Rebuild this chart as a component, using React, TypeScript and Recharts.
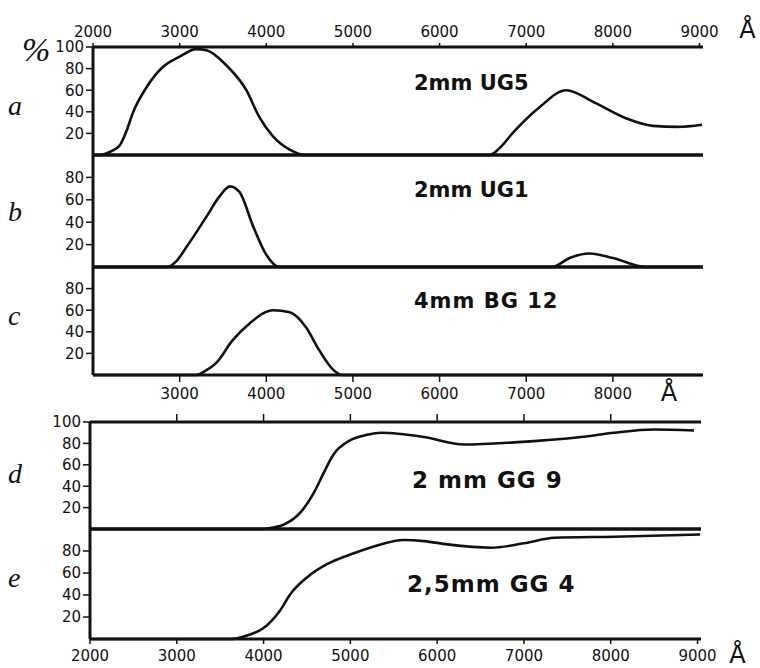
import React from "react";
import { Line, LineChart, XAxis, YAxis } from "recharts";

// wavelengths in Å, transmission in %
const ug5Wave = [2000, 2080, 2200, 2310, 2390, 2460, 2620, 2800, 3000, 3190, 3310, 3540, 3770, 3920, 4080, 4270, 4460, 6580, 6700, 6840, 7150, 7460, 7800, 8150, 8460, 8750, 9030];
const ug5Trans = [0, 0, 3, 9, 23, 39, 63, 81, 91, 98, 97, 83, 60, 35, 17, 5, 0, 0, 7, 20, 44, 60, 48, 34, 27, 26, 28];

const ug1Wave = [2000, 2850, 2960, 3080, 3310, 3460, 3580, 3690, 3850, 4000, 4150, 7300, 7500, 7730, 8000, 8380, 9030];
const ug1Trans = [0, 0, 5, 18, 45, 63, 72, 67, 36, 11, 0, 0, 8, 12, 8, 0, 0];

const bg12Wave = [2000, 3190, 3300, 3420, 3610, 3810, 4080, 4270, 4460, 4610, 4770, 4880, 9030];
const bg12Trans = [0, 0, 4, 11, 32, 48, 60, 58, 44, 23, 5, 0, 0];

const gg9Wave = [2000, 4000, 4120, 4230, 4420, 4580, 4690, 4800, 5000, 5190, 5350, 5850, 6310, 6890, 7660, 8040, 8500, 8960];
const gg9Trans = [0, 0, 1.5, 4, 15, 34, 52, 69, 83, 88, 90, 86, 79, 81, 86, 90, 93, 92];

const gg4Wave = [2000, 3620, 3800, 4000, 4190, 4310, 4500, 4730, 5040, 5350, 5610, 5850, 6120, 6620, 7000, 7350, 8040, 9030];
const gg4Trans = [0, 0, 3, 10, 26, 41, 56, 68, 78, 86, 90, 89, 86, 83, 87, 92, 93, 95];

const waveTicksFull = [2000, 3000, 4000, 5000, 6000, 7000, 8000, 9000];
const waveTicksMid = [3000, 4000, 5000, 6000, 7000, 8000];
const pctTicks100 = [20, 40, 60, 80, 100];
const pctTicks80 = [20, 40, 60, 80];

const WAVE_DOMAIN: [number, number] = [2000, 9040];

const toRows = (wave: number[], trans: number[]) => wave.map((w, i) => ({ w, t: trans[i] }));

const ink = "#111";
const hand = "'DejaVu Sans', sans-serif";

type AxisSpec = {
  ticks: number[];
  labels: boolean;
  size: number;
  height: number;
  unitAt?: number;
  unitDx?: number;
};

function makeTick(side: "top" | "bottom", spec: AxisSpec) {
  return (props: any) => {
    const { x, y, payload } = props;
    const dy = side === "top" ? -2 : 13;
    return (
      <g>
        <text x={x} y={y} dy={dy} textAnchor="middle" fill={ink} fontSize={15} fontFamily={hand}>
          {payload.value}
        </text>
        {payload.value === spec.unitAt && (
          <text x={x + (spec.unitDx ?? 48)} y={y} dy={side === "top" ? -1 : 15} textAnchor="middle" fill={ink} fontSize={24} fontFamily={hand}>
            Å
          </text>
        )}
      </g>
    );
  };
}

type PanelProps = {
  rows: Array<{ w: number; t: number }>;
  top: number;
  height: number;
  left: number;
  right: number;
  yTicks: number[];
  topAxis: AxisSpec;
  bottomAxis: AxisSpec;
};

function Panel({ rows, top, height, left, right, yTicks, topAxis, bottomAxis }: PanelProps) {
  const full = topAxis.height + height + bottomAxis.height;
  const axisLine = { stroke: ink, strokeWidth: 3 };
  const tickLine = { stroke: ink, strokeWidth: 1.5 };
  return (
    <div style={{ position: "absolute", left: 0, top: top - topAxis.height }}>
      <LineChart width={760} height={full} data={rows} margin={{ top: 0, right: 760 - right, bottom: 0, left: 0 }}>
        <XAxis
          xAxisId="t"
          orientation="top"
          type="number"
          dataKey="w"
          domain={WAVE_DOMAIN}
          ticks={topAxis.ticks}
          interval={0}
          height={topAxis.height}
          axisLine={axisLine}
          tickLine={topAxis.ticks.length ? tickLine : false}
          tickSize={topAxis.size}
          tickMargin={4}
          tick={topAxis.labels ? makeTick("top", topAxis) : () => <g />}
          allowDataOverflow
        />
        <XAxis
          xAxisId="b"
          orientation="bottom"
          type="number"
          dataKey="w"
          domain={WAVE_DOMAIN}
          ticks={bottomAxis.ticks}
          interval={0}
          height={bottomAxis.height}
          axisLine={axisLine}
          tickLine={bottomAxis.ticks.length ? tickLine : false}
          tickSize={bottomAxis.size}
          tickMargin={4}
          tick={bottomAxis.labels ? makeTick("bottom", bottomAxis) : () => <g />}
          allowDataOverflow
        />
        <YAxis
          yAxisId="l"
          width={left}
          type="number"
          domain={[0, 100]}
          ticks={yTicks}
          interval={0}
          axisLine={axisLine}
          tickLine={tickLine}
          tickSize={7}
          tickMargin={2}
          tick={{ fill: ink, fontSize: 15, fontFamily: hand }}
        />
        <YAxis yAxisId="r" orientation="right" width={0} type="number" domain={[0, 100]} tick={false} tickLine={false} axisLine={axisLine} />
        <Line
          xAxisId="b"
          yAxisId="l"
          dataKey="t"
          type="monotone"
          stroke={ink}
          strokeWidth={2.6}
          dot={false}
          isAnimationActive={false}
        />
      </LineChart>
    </div>
  );
}

const none: AxisSpec = { ticks: [], labels: false, size: 0, height: 4 };

const labelStyle: React.CSSProperties = {
  position: "absolute",
  fontFamily: hand,
  fontWeight: 700,
  fontSize: 21,
  color: ink,
  whiteSpace: "nowrap",
  lineHeight: 1,
};

const letterStyle: React.CSSProperties = {
  position: "absolute",
  fontFamily: "'Liberation Serif', serif",
  fontStyle: "italic",
  fontSize: 28,
  color: ink,
  lineHeight: 1,
};

export default function App() {
  return (
    <div style={{ position: "absolute", left: 0, top: 0, width: 760, height: 668, background: "#fff", overflow: "hidden" }}>
      <Panel
        rows={toRows(ug5Wave, ug5Trans)}
        top={47}
        height={108}
        left={93}
        right={703}
        yTicks={pctTicks100}
        topAxis={{ ticks: waveTicksFull, labels: true, size: 4, height: 44, unitAt: 9000, unitDx: 48 }}
        bottomAxis={none}
      />
      <Panel rows={toRows(ug1Wave, ug1Trans)} top={155} height={112} left={93} right={703} yTicks={pctTicks80} topAxis={none} bottomAxis={none} />
      <Panel
        rows={toRows(bg12Wave, bg12Trans)}
        top={267}
        height={108}
        left={93}
        right={703}
        yTicks={pctTicks80}
        topAxis={none}
        bottomAxis={{ ticks: waveTicksMid, labels: true, size: 7, height: 36, unitAt: 8000, unitDx: 56 }}
      />
      <Panel
        rows={toRows(gg9Wave, gg9Trans)}
        top={422}
        height={107}
        left={90}
        right={701}
        yTicks={pctTicks100}
        topAxis={{ ticks: waveTicksMid, labels: false, size: 8, height: 12 }}
        bottomAxis={none}
      />
      <Panel
        rows={toRows(gg4Wave, gg4Trans)}
        top={529}
        height={110}
        left={90}
        right={701}
        yTicks={pctTicks80}
        topAxis={none}
        bottomAxis={{ ticks: waveTicksFull, labels: true, size: 5, height: 29, unitAt: 9000, unitDx: 40 }}
      />

      <div style={{ ...letterStyle, fontSize: 34, left: 22, top: 33 }}>%</div>
      <div style={{ ...letterStyle, left: 8, top: 92 }}>a</div>
      <div style={{ ...letterStyle, left: 8, top: 198 }}>b</div>
      <div style={{ ...letterStyle, left: 8, top: 302 }}>c</div>
      <div style={{ ...letterStyle, left: 8, top: 460 }}>d</div>
      <div style={{ ...letterStyle, left: 8, top: 564 }}>e</div>

      <div style={{ ...labelStyle, left: 414, top: 73 }}>2mm UG5</div>
      <div style={{ ...labelStyle, left: 414, top: 180 }}>2mm UG1</div>
      <div style={{ ...labelStyle, left: 414, top: 291, letterSpacing: 1 }}>4mm BG 12</div>
      <div style={{ ...labelStyle, left: 412, top: 469, fontSize: 23, letterSpacing: 1 }}>2 mm GG 9</div>
      <div style={{ ...labelStyle, left: 407, top: 573, fontSize: 23, letterSpacing: 1 }}>2,5mm GG 4</div>
    </div>
  );
}
